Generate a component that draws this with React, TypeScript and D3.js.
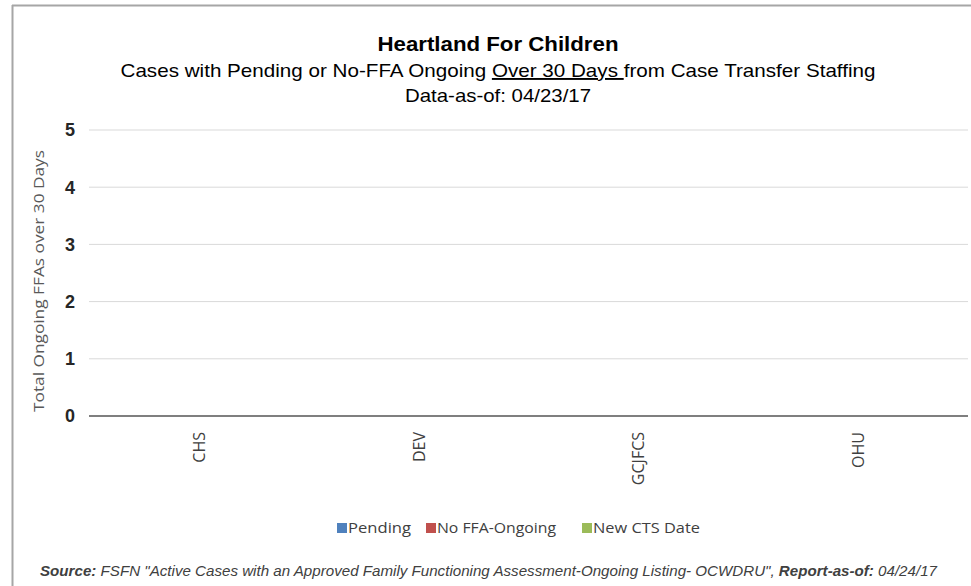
import React from 'react';
import * as d3 from 'd3';

const categories = ['CHS', 'DEV', 'GCJFCS', 'OHU'];
const seriesNames = ['Pending', 'No FFA-Ongoing', 'New CTS Date'];
const seriesColors = ['#4f81bd', '#c0504d', '#9bbb59'];
const pending = [0, 0, 0, 0];
const noFfaOngoing = [0, 0, 0, 0];
const newCtsDate = [0, 0, 0, 0];
const yTicks = [0, 1, 2, 3, 4, 5];

const narrow = '"Liberation Sans Narrow", "Arial Narrow", "Liberation Sans", Arial, sans-serif';
const body = '"Open Sans", "Noto Sans", sans-serif';

export default function App() {
  const width = 971;
  const height = 586;
  const left = 89;
  const right = 968;
  const top = 130;
  const bottom = 416;

  const x = d3.scaleBand().domain(categories).range([left, right]);
  const xInner = d3.scaleBand().domain(seriesNames).range([0, x.bandwidth()]).paddingOuter(1.5);
  const y = d3.scaleLinear().domain([0, 5]).range([bottom, top]);

  const series = [pending, noFfaOngoing, newCtsDate];
  // legend placement (swatch x, text width)
  const legendX = [337, 426, 582];
  const legendW = [63, 119, 107];

  return (
    <svg width={width} height={height} style={{ position: 'absolute', left: 0, top: 0 }}>
      <rect x={0} y={0} width={width} height={height} fill="#fff" />
      <line x1={12} y1={5.5} x2={width} y2={5.5} stroke="#a6a6a6" strokeWidth={2} />
      <line x1={12.5} y1={5} x2={12.5} y2={height} stroke="#a6a6a6" strokeWidth={2} />

      <text x={498} y={51} textAnchor="middle" fontFamily={narrow} fontWeight="bold" fontSize={20}
        textLength={241} lengthAdjust="spacingAndGlyphs" fill="#000">Heartland For Children</text>
      <text x={498} y={77} textAnchor="middle" fontFamily={narrow} fontSize={19}
        textLength={755} lengthAdjust="spacingAndGlyphs" fill="#000">
        Cases with Pending or No-FFA Ongoing <tspan textDecoration="underline">Over 30 Days </tspan>from Case Transfer Staffing
      </text>
      <text x={498} y={102} textAnchor="middle" fontFamily={narrow} fontSize={19}
        textLength={186} lengthAdjust="spacingAndGlyphs" fill="#000">Data-as-of: 04/23/17</text>

      {yTicks.map(t => (
        <g key={t}>
          <line x1={left} x2={right} y1={y(t)} y2={y(t)}
            stroke={t === 0 ? '#7f7f7f' : '#d9d9d9'} strokeWidth={t === 0 ? 2 : 1} />
          <text x={75} y={y(t)} dy="0.35em" textAnchor="end" fontFamily={narrow}
            fontWeight="bold" fontSize={18} fill="#262626">{t}</text>
        </g>
      ))}

      {series.map((vals, si) =>
        vals.map((v, ci) => (
          <rect key={`${si}-${ci}`}
            x={(x(categories[ci]) || 0) + (xInner(seriesNames[si]) || 0)}
            y={y(v)} width={xInner.bandwidth()} height={y(0) - y(v)}
            fill={seriesColors[si]} />
        ))
      )}

      {categories.map(c => (
        <text key={c} transform={`translate(${(x(c) || 0) + x.bandwidth() / 2 + 6},432) rotate(-90)`}
          textAnchor="end" fontFamily={body} fontSize={16} fill="#404040">{c}</text>
      ))}

      <text transform={`translate(44,281) rotate(-90)`} textAnchor="middle" fontFamily={body}
        fontSize={15} textLength={262} lengthAdjust="spacingAndGlyphs"
        fill="#595959">Total Ongoing FFAs over 30 Days</text>

      {seriesNames.map((s, i) => (
        <g key={s}>
          <rect x={legendX[i]} y={523} width={10} height={10} fill={seriesColors[i]} />
          <text x={legendX[i] + 11} y={528} dy="0.35em" fontFamily={body} fontSize={15}
            textLength={legendW[i]} lengthAdjust="spacingAndGlyphs" fill="#404040">{s}</text>
        </g>
      ))}

      <text x={40} y={576} fontFamily={narrow} fontStyle="italic" fontSize={15} fill="#404040"
        textLength={897} lengthAdjust="spacingAndGlyphs">
        <tspan fontWeight="bold">Source:</tspan> FSFN "Active Cases with an Approved Family Functioning Assessment-Ongoing Listing- OCWDRU",  <tspan fontWeight="bold">Report-as-of:</tspan> 04/24/17
      </text>
    </svg>
  );
}
